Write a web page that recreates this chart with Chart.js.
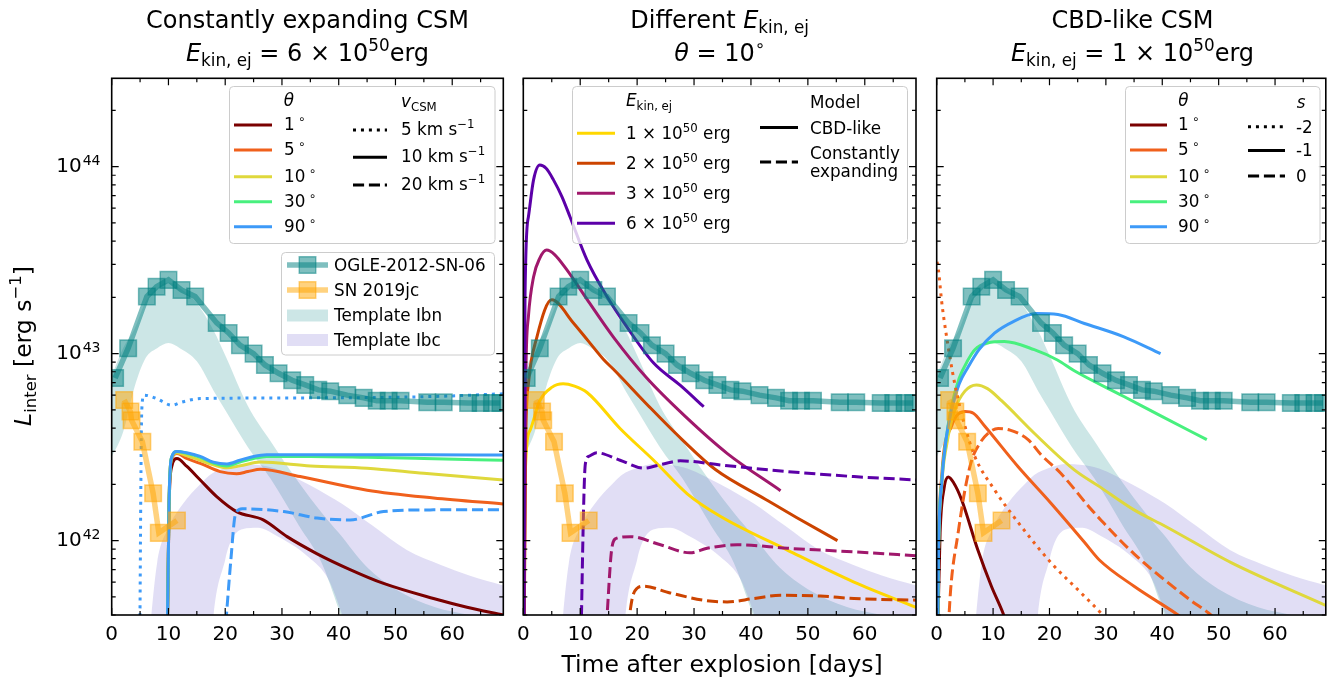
<!DOCTYPE html>
<html><head><meta charset="utf-8">
<script src="https://cdn.jsdelivr.net/npm/chart.js@4.4.1/dist/chart.umd.min.js"></script>
<style>
html,body{margin:0;padding:0;background:#fff;}
body{width:1339px;height:682px;position:relative;overflow:hidden;font-family:'DejaVu Sans',sans-serif;}
canvas{position:absolute;left:0;top:0;}
#ov{position:absolute;left:0;top:0;z-index:2;}
.t{position:absolute;white-space:nowrap;color:#000;line-height:1;z-index:3;}
.t sub{font-size:70%;position:relative;top:0.32em;vertical-align:baseline;line-height:0;}
.t sup{font-size:70%;position:relative;top:-0.6em;vertical-align:baseline;line-height:0;}
</style></head>
<body>
<canvas id="c1" width="1339" height="682"></canvas>
<canvas id="c2" width="1339" height="682"></canvas>
<canvas id="c3" width="1339" height="682"></canvas>
<svg id="ov" width="1339" height="682" xmlns="http://www.w3.org/2000/svg"></svg>
<script>
// ---------------- axis ticks ----------------
const xTicks = [0, 10, 20, 30, 40, 50, 60];
const yTicks = [1e42, 1e43, 1e44];
const yTickBase = ['10', '10', '10'];
const yTickExp = ['42', '43', '44'];

// ---------------- observations ----------------
const ogleT = [0.6, 2.9, 6.2, 7.9, 10.0, 12.3, 14.7, 18.5, 20.6, 22.6, 25.0, 27.0, 29.4, 31.8, 34.1, 36.4, 38.5, 41.5, 44.4, 46.7, 48.8, 50.9, 55.6, 58.5, 62.8, 65.0, 67.0, 68.5];
const ogleL = [7.4e42, 1.07e43, 2.02e43, 2.28e43, 2.48e43, 2.19e43, 2.02e43, 1.46e43, 1.29e43, 1.11e43, 1.0e43, 8.7e42, 7.85e42, 7.2e42, 6.8e42, 6.4e42, 6.3e42, 6.0e42, 5.8e42, 5.6e42, 5.6e42, 5.6e42, 5.5e42, 5.5e42, 5.45e42, 5.45e42, 5.45e42, 5.45e42];
const sn19jcT = [2.2, 3.3, 3.5, 5.4, 7.3, 8.3, 11.5];
const sn19jcL = [5.65e42, 4.9e42, 4.4e42, 3.38e42, 1.79e42, 1.10e42, 1.28e42];

// template bands
const ibnT = [0, 2, 4, 6, 8, 10, 12, 15, 18, 20, 24, 28, 33, 37, 40, 45, 50, 57, 63, 69];
const ibnUpper = [7.6e42, 1.07e43, 1.35e43, 1.9e43, 2.24e43, 2.4e43, 2.24e43, 1.86e43, 1.32e43, 9.8e42, 5.25e42, 3.4e42, 2.04e42, 1.41e42, 1.1e42, 7.2e41, 5.5e41, 4.4e41, 4.0e41, 3.6e41];
const ibnLower = [2.8e42, 3.8e42, 6.6e42, 9.5e42, 1.07e43, 1.14e43, 1.07e43, 9.1e42, 6.3e42, 5.0e42, 3.16e42, 2.14e42, 1.2e42, 7.6e41, 4.3e41, 1.6e41, 1e41, 1e41, 1e41, 1e41];
const ibcT = [0, 6, 8, 10, 12.6, 15.6, 17.3, 20, 23, 25.8, 28.8, 34.6, 38.2, 40.5, 46, 52, 58, 63, 69];
const ibcUpper = [1e40, 2.0e41, 7.6e41, 1.17e42, 1.58e42, 2.0e42, 2.24e42, 2.45e42, 2.57e42, 2.54e42, 2.43e42, 2.0e42, 1.74e42, 1.58e42, 1.2e42, 8.9e41, 7.4e41, 6.5e41, 5.75e41];
const ibcLower = [1e40, 1e40, 1e40, 1e40, 1e40, 1e40, 2.24e41, 7.9e41, 1.15e42, 1.17e42, 1.07e42, 8.2e41, 6.2e41, 4.1e41, 1.26e41, 1e41, 1e41, 1e41, 1e41];

// ---------------- panel 1: constantly expanding CSM, E = 6e50 ----------------
const ce1T  = [9.6, 10.1, 10.6, 11.5, 13.2, 15.6, 18.5, 22.0, 26.7, 30.9, 36.2, 42.0, 47.9, 56.7, 62.6, 69];
const ce1L  = [1e41, 1.5e42, 2.5e42, 2.75e42, 2.5e42, 2.11e42, 1.72e42, 1.43e42, 1.29e42, 1.05e42, 8.5e41, 7.0e41, 5.9e41, 4.9e41, 4.4e41, 4.0e41];
const ce5T  = [9.6, 10.1, 10.5, 11.5, 13.2, 15.6, 19.1, 22.0, 24.0, 26.2, 33.2, 45, 56.7, 69];
const ce5L  = [1e41, 1.58e42, 2.7e42, 2.92e42, 2.75e42, 2.59e42, 2.34e42, 2.28e42, 2.34e42, 2.41e42, 2.2e42, 1.86e42, 1.69e42, 1.57e42];
const ce10T = [9.6, 10.1, 10.5, 11.5, 13.2, 15.6, 17.9, 20.3, 22.6, 26.2, 35, 45, 55, 69];
const ce10L = [1e41, 1.58e42, 2.75e42, 2.95e42, 2.85e42, 2.69e42, 2.54e42, 2.45e42, 2.51e42, 2.63e42, 2.51e42, 2.44e42, 2.29e42, 2.11e42];
const ce30T = [9.6, 10.1, 10.5, 11.5, 13.2, 15.6, 17.9, 20.3, 22.6, 25.0, 27.3, 35, 45, 55, 69];
const ce30L = [1e41, 1.58e42, 2.75e42, 3.0e42, 2.93e42, 2.79e42, 2.6e42, 2.51e42, 2.63e42, 2.75e42, 2.82e42, 2.82e42, 2.79e42, 2.75e42, 2.69e42];
const ce90T = [9.6, 10.1, 10.5, 11.5, 13.2, 15.6, 17.9, 20.3, 22.6, 25.0, 27.3, 35, 45, 55, 69];
const ce90L = [1e41, 1.58e42, 2.75e42, 3.0e42, 2.95e42, 2.82e42, 2.63e42, 2.57e42, 2.69e42, 2.82e42, 2.88e42, 2.88e42, 2.88e42, 2.88e42, 2.87e42];
const ce90v5T = [4.85, 5.3, 5.7, 7.9, 10.6, 12.3, 15.6, 35, 56.7, 69];
const ce90v5L = [1e41, 5.0e42, 6.0e42, 5.75e42, 5.3e42, 5.5e42, 5.75e42, 5.8e42, 5.9e42, 6.1e42];
const ce90v20T = [19.9, 21.0, 21.8, 23.0, 30.3, 36.2, 42.0, 47.9, 56.7, 69];
const ce90v20L = [3e41, 7.9e41, 1.38e42, 1.48e42, 1.43e42, 1.32e42, 1.29e42, 1.43e42, 1.46e42, 1.46e42];

// ---------------- panel 2: different E_kin,ej, theta = 10 ----------------
const e1cbdT = [0.02, 0.3, 1.2, 2.9, 5.0, 7.0, 9.0, 11.2, 17.0, 22.9, 28.8, 34.6, 46.4, 58.1, 69];
const e1cbdL = [1e41, 2.1e42, 3.9e42, 5.6e42, 6.6e42, 6.9e42, 6.7e42, 6.2e42, 3.98e42, 2.69e42, 1.78e42, 1.35e42, 8.9e41, 6.0e41, 4.4e41];
const e2cbdT = [0.05, 0.4, 0.9, 2.4, 5.0, 8.8, 11.4, 14.1, 16.1, 22.0, 27.9, 33.75, 42.6, 48, 55.2];
const e2cbdL = [1e41, 3.16e42, 6.9e42, 1.23e43, 1.94e43, 1.46e43, 1.17e43, 9.3e42, 8.1e42, 5.25e42, 3.47e42, 2.4e42, 1.66e42, 1.33e42, 1.0e42];
const e3cbdT = [0.05, 0.4, 0.9, 1.8, 2.9, 4.1, 5.5, 7.6, 11.2, 15.8, 21.7, 28.5, 35.8, 45.2];
const e3cbdL = [1e41, 6.3e42, 1.58e43, 2.57e43, 3.24e43, 3.58e43, 3.39e43, 2.82e43, 1.95e43, 1.23e43, 7.4e42, 4.6e42, 2.93e42, 1.85e42];
const e6cbdT = [0.05, 0.3, 0.9, 1.8, 2.9, 4.0, 5.3, 6.8, 8.2, 11.2, 14.7, 18.2, 22.9, 27.6, 31.7];
const e6cbdL = [1e41, 2.0e43, 5.4e43, 8.5e43, 1.02e44, 9.8e43, 8.5e43, 6.9e43, 5.4e43, 3.16e43, 2.02e43, 1.39e43, 8.9e42, 6.76e42, 5.2e42];
const e2ceT = [18.4, 19.2, 20.0, 21.1, 25.8, 31.7, 35.8, 40.5, 45.2, 52.2, 58.1, 69];
const e2ceL = [3.5e41, 5.0e41, 5.56e41, 5.7e41, 5.25e41, 4.8e41, 4.7e41, 4.9e41, 5.1e41, 5.05e41, 4.9e41, 4.8e41];
const e3ceT = [14.6, 15.6, 16.4, 18.8, 24.1, 29.3, 32.3, 37.6, 46.4, 58.1, 69];
const e3ceL = [3.5e41, 9.3e41, 1.03e42, 1.05e42, 9.5e41, 8.6e41, 9.1e41, 9.5e41, 9.1e41, 8.7e41, 8.3e41];
const e6ceT = [9.85, 10.9, 11.5, 12.9, 17.0, 21.1, 24.6, 27.6, 34.6, 46.4, 58.1, 69];
const e6ceL = [1e41, 2.57e42, 2.82e42, 2.95e42, 2.69e42, 2.44e42, 2.57e42, 2.67e42, 2.54e42, 2.34e42, 2.2e42, 2.11e42];

// ---------------- panel 3: CBD-like CSM, E = 1e50 ----------------
const cbd1T  = [0.02, 0.6, 1.3, 2.05, 3.0, 4.4, 7.3, 9.7, 11.75, 13];
const cbd1L  = [2e41, 1.1e42, 1.9e42, 2.19e42, 2.04e42, 1.66e42, 8.9e41, 5.7e41, 4.1e41, 3.2e41];
const cbd5T  = [0.02, 0.3, 0.9, 2.65, 5.0, 6.5, 8.5, 14.4, 20.3, 26.2, 28.8, 35.0, 42.3, 45];
const cbd5L  = [1e41, 7.9e41, 2.24e42, 4.1e42, 4.9e42, 4.8e42, 4.1e42, 2.49e42, 1.58e42, 9.8e41, 7.9e41, 5.7e41, 4.1e41, 3.6e41];
const cbd10T = [0.02, 0.3, 0.9, 1.8, 3.2, 5.0, 7.05, 9, 11.5, 17.3, 24.4, 28.8, 35.0, 40.6, 52.3, 69];
const cbd10L = [1e41, 7.9e41, 2.0e42, 3.3e42, 5.0e42, 6.3e42, 6.8e42, 6.5e42, 5.6e42, 3.75e42, 2.39e42, 1.95e42, 1.46e42, 1.19e42, 7.6e41, 4.5e41];
const cbd30T = [0.02, 0.3, 0.9, 1.7, 2.65, 4.0, 5.6, 6.75, 9, 12, 17.3, 21.4, 24.4, 33.2, 40, 47.9];
const cbd30L = [1e41, 7.9e41, 2.1e42, 3.55e42, 5.25e42, 7.4e42, 9.3e42, 1.05e43, 1.14e43, 1.16e43, 1.05e43, 9.25e42, 8.1e42, 5.9e42, 4.6e42, 3.47e42];
const cbd90T = [0.02, 0.3, 0.9, 1.7, 2.65, 4.0, 5.6, 7.5, 10.3, 13.5, 17.6, 21.5, 26.2, 33.2, 39.7];
const cbd90L = [1e41, 7.9e41, 2.04e42, 3.55e42, 5.0e42, 6.9e42, 8.5e42, 1.05e43, 1.29e43, 1.48e43, 1.64e43, 1.62e43, 1.45e43, 1.23e43, 1.0e43];
const cbd5s0T = [1.9, 2.5, 3.8, 5.0, 6.2, 7.6, 9.1, 10.9, 13, 16.2, 18.5, 22, 27.3, 29.1, 35, 45, 48.2, 52];
const cbd5s0L = [2.8e41, 5.6e41, 1.1e42, 1.86e42, 2.69e42, 3.3e42, 3.75e42, 3.98e42, 3.9e42, 3.47e42, 2.88e42, 2.29e42, 1.48e42, 1.29e42, 8.5e41, 4.8e41, 4.1e41, 3.2e41];
const cbd5sm2T = [0.05, 0.3, 0.88, 1.6, 3.2, 5.0, 6.75, 10.3, 15.0, 20.3, 25.6, 29.1, 31];
const cbd5sm2L = [3.1e43, 2.82e43, 1.9e43, 1.32e43, 6.9e42, 4.1e42, 2.82e42, 1.86e42, 1.19e42, 7.6e41, 5.25e41, 4.1e41, 3.5e41];

// ---------------- styles ----------------
const C_T1 = '#7a0000', C_T5 = '#f0601c', C_T10 = '#dfd83c', C_T30 = '#48f07e', C_T90 = '#3d9af8';
const C_E1 = '#ffd700', C_E2 = '#cc4400', C_E3 = '#a0186c', C_E6 = '#5c00a8';
const DOT = [3, 4.95], DASH = [11.1, 4.8];
const OGLE_C = 'rgba(0,128,128,0.5)', SN_C = 'rgba(255,165,0,0.5)';
const IBN_C = 'rgba(0,128,128,0.2)', IBC_C = 'rgba(106,90,205,0.2)';
const X_MIN = 0, X_MAX = 69, Y_MIN = 4.0e41, Y_MAX = 2.97e44;
const Y_LABEL_PAD = 30;

Chart.defaults.font.family = "'DejaVu Sans', sans-serif";
Chart.defaults.color = '#000';

const pts = (T, L) => T.map((t, i) => ({x: t, y: L[i]}));
function model(T, L, color, dash, order) {
  return {data: pts(T, L), borderColor: color, borderWidth: 3, borderDash: dash || [],
    borderCapStyle: 'butt', borderJoinStyle: 'round', pointRadius: 0, pointHoverRadius: 0,
    fill: false, cubicInterpolationMode: 'monotone', clip: 0, order: order};
}
function commonData() {
  return [
    {data: pts(ibnT, ibnUpper), fill: 1, backgroundColor: IBN_C, borderWidth: 0, pointRadius: 0, cubicInterpolationMode: 'monotone', clip: 0, order: 100},
    {data: pts(ibnT, ibnLower), fill: false, borderWidth: 0, pointRadius: 0, cubicInterpolationMode: 'monotone', clip: 0, order: 101},
    {data: pts(ibcT, ibcUpper), fill: 3, backgroundColor: IBC_C, borderWidth: 0, pointRadius: 0, cubicInterpolationMode: 'monotone', clip: 0, order: 98},
    {data: pts(ibcT, ibcLower), fill: false, borderWidth: 0, pointRadius: 0, cubicInterpolationMode: 'monotone', clip: 0, order: 99},
    {data: pts(ogleT, ogleL), borderColor: OGLE_C, borderWidth: 5.5, tension: 0, fill: false,
      pointStyle: 'rect', pointRadius: 11.7, pointBackgroundColor: OGLE_C, pointBorderColor: OGLE_C, pointBorderWidth: 1.5, clip: 0, order: 1},
    {data: pts(sn19jcT, sn19jcL), borderColor: SN_C, borderWidth: 5.5, tension: 0, fill: false,
      pointStyle: 'rect', pointRadius: 11.7, pointBackgroundColor: SN_C, pointBorderColor: SN_C, pointBorderWidth: 1.5, clip: 0, order: 0}
  ];
}

const frameTicks = {
  id: 'frameTicks',
  afterDraw(chart) {
    const {ctx, chartArea: a} = chart;
    const xs = chart.scales.x, ys = chart.scales.y;
    ctx.save();
    ctx.strokeStyle = '#000';
    ctx.beginPath();
    ctx.lineWidth = 1.2;
    for (let v = X_MIN; v <= X_MAX; v += 5) {
      const p = xs.getPixelForValue(v);
      const len = (v % 10 === 0) ? 7 : 4;
      ctx.moveTo(p, a.bottom); ctx.lineTo(p, a.bottom - len);
      ctx.moveTo(p, a.top); ctx.lineTo(p, a.top + len);
    }
    for (let e = 41; e <= 44; e++) {
      for (let m = 1; m <= 9; m++) {
        const v = m * Math.pow(10, e);
        if (v < Y_MIN || v > Y_MAX) continue;
        const p = ys.getPixelForValue(v);
        const len = m === 1 ? 7 : 4;
        ctx.moveTo(a.left, p); ctx.lineTo(a.left + len, p);
        ctx.moveTo(a.right, p); ctx.lineTo(a.right - len, p);
      }
    }
    ctx.stroke();
    ctx.lineWidth = 1.6;
    ctx.strokeRect(a.left, a.top, a.right - a.left, a.bottom - a.top);
    // exponents of the y tick labels (superscripts next to the library's "10" labels)
    if (ys.options.ticks.display) {
      ctx.fillStyle = '#000';
      ctx.font = "14px 'DejaVu Sans', sans-serif";
      ctx.textAlign = 'left';
      ctx.textBaseline = 'alphabetic';
      ys.ticks.forEach((t, i) => {
        const p = ys.getPixelForValue(t.value);
        ctx.fillText(yTickExp[i], a.left - Y_LABEL_PAD + 1, p - 2);
      });
    }
    ctx.restore();
  }
};

function makeChart(id, datasets, padLeft, yWidth, padRight, showY) {
  return new Chart(document.getElementById(id), {
    type: 'line',
    data: {datasets: datasets},
    options: {
      responsive: false, animation: false, devicePixelRatio: 1,
      layout: {padding: {left: padLeft, right: padRight, top: 78.3, bottom: 0}},
      plugins: {legend: {display: false}, tooltip: {enabled: false}},
      events: [],
      scales: {
        x: {type: 'linear', min: X_MIN, max: X_MAX,
          grid: {display: false, drawTicks: false}, border: {display: false},
          afterBuildTicks: s => { s.ticks = xTicks.map(v => ({value: v})); },
          afterFit: s => { s.height = 67; },
          ticks: {autoSkip: false, maxRotation: 0, padding: 8, font: {size: 20}, color: '#000',
            callback: v => String(v)}},
        y: {type: 'logarithmic', min: Y_MIN, max: Y_MAX,
          grid: {display: false, drawTicks: false}, border: {display: false},
          afterBuildTicks: s => { s.ticks = yTicks.map(v => ({value: v})); },
          afterFit: s => { s.width = yWidth; },
          ticks: {display: showY, autoSkip: false, padding: Y_LABEL_PAD, font: {size: 20}, color: '#000',
            callback: (v, i) => yTickBase[i]}}
      }
    },
    plugins: [frameTicks]
  });
}

const ds1 = commonData().concat([
  model(ce1T, ce1L, C_T1, null, 20),
  model(ce5T, ce5L, C_T5, null, 19),
  model(ce10T, ce10L, C_T10, null, 18),
  model(ce30T, ce30L, C_T30, null, 17),
  model(ce90T, ce90L, C_T90, null, 16),
  model(ce90v5T, ce90v5L, C_T90, DOT, 15),
  model(ce90v20T, ce90v20L, C_T90, DASH, 14)
]);
const ds2 = commonData().concat([
  model(e1cbdT, e1cbdL, C_E1, null, 20),
  model(e2cbdT, e2cbdL, C_E2, null, 19),
  model(e2ceT, e2ceL, C_E2, DASH, 18),
  model(e3cbdT, e3cbdL, C_E3, null, 17),
  model(e3ceT, e3ceL, C_E3, DASH, 16),
  model(e6cbdT, e6cbdL, C_E6, null, 15),
  model(e6ceT, e6ceL, C_E6, DASH, 14)
]);
const ds3 = commonData().concat([
  model(cbd1T, cbd1L, C_T1, null, 20),
  model(cbd5T, cbd5L, C_T5, null, 19),
  model(cbd10T, cbd10L, C_T10, null, 18),
  model(cbd30T, cbd30L, C_T30, null, 17),
  model(cbd90T, cbd90L, C_T90, null, 16),
  model(cbd5sm2T, cbd5sm2L, C_T5, DOT, 15),
  model(cbd5s0T, cbd5s0L, C_T5, DASH, 14)
]);

makeChart('c1', ds1, 40, 71.7, 1339 - 503.3, true);
makeChart('c2', ds2, 500, 23.3, 1339 - 916, false);
makeChart('c3', ds3, 910, 26.7, 1339 - 1328.3, false);

// ---------------- text & legends ----------------
function txt(html, x, cy, fs, align, rot) {
  const d = document.createElement('div');
  d.className = 't';
  d.innerHTML = html;
  d.style.fontSize = fs + 'px';
  d.style.left = x + 'px';
  if (rot) {
    d.style.top = cy + 'px';
    d.style.transform = 'translate(-50%,-50%) rotate(-90deg)';
  } else {
    d.style.top = (cy - 0.48 * fs) + 'px';
    if (align === 'center') d.style.transform = 'translateX(-50%)';
  }
  document.body.appendChild(d);
}
const svg = document.getElementById('ov');
function el(tag, attrs) {
  const e = document.createElementNS('http://www.w3.org/2000/svg', tag);
  for (const k in attrs) e.setAttribute(k, attrs[k]);
  svg.appendChild(e);
  return e;
}
function box(x, y, w, h) { el('rect', {x: x, y: y, width: w, height: h, rx: 4, ry: 4, fill: 'rgba(255,255,255,0.8)', stroke: '#cccccc', 'stroke-width': 1}); }
function sample(x1, x2, y, color, dash) {
  el('line', {x1: x1, y1: y, x2: x2, y2: y, stroke: color, 'stroke-width': 3, 'stroke-dasharray': dash ? dash.join(' ') : 'none'});
}
function markerSample(x1, x2, y, color) {
  el('line', {x1: x1, y1: y, x2: x2, y2: y, stroke: color, 'stroke-width': 5.5});
  const cx = (x1 + x2) / 2, s = 16.5;
  el('rect', {x: cx - s / 2, y: y - s / 2, width: s, height: s, fill: color, stroke: color, 'stroke-width': 1.5});
}
const LF = 16.8;
const EKIN = '<i>E</i><sub>kin, ej</sub>';

// titles
txt('Constantly expanding CSM', 307.5, 19.5, 24, 'center');
txt(EKIN + ' = 6 × 10<sup>50</sup>erg', 307.5, 52.5, 24, 'center');
txt('Different ' + EKIN, 719.7, 19.5, 24, 'center');
txt('<i>θ</i> = 10<sup>∘</sup>', 719.7, 52.5, 24, 'center');
txt('CBD-like CSM', 1132.5, 19.5, 24, 'center');
txt(EKIN + ' = 1 × 10<sup>50</sup>erg', 1132.5, 52.5, 24, 'center');
// axis titles
txt('Time after explosion [days]', 722, 664, 23.5, 'center');
txt('<i>L</i><sub>inter</sub> [erg s<sup>−1</sup>]', 24, 346, 23.5, 'center', true);

// legend panel 1 (theta / v_CSM)
box(229.5, 86.5, 265.5, 157);
txt('<i>θ</i>', 289, 100, LF, 'center');
[['1', C_T1, 125], ['5', C_T5, 150], ['10', C_T10, 176.7], ['30', C_T30, 201.7], ['90', C_T90, 226.7]].forEach(r => {
  sample(234, 272, r[2], r[1]); txt(r[0] + '&thinsp;<sup>∘</sup>', 284, r[2] - 1, LF, 'left');
});
txt('<i>v</i><sub>CSM</sub>', 401, 101, LF, 'left');
[['5 km s<sup>−1</sup>', DOT, 130], ['10 km s<sup>−1</sup>', null, 157.3], ['20 km s<sup>−1</sup>', DASH, 185]].forEach(r => {
  sample(353, 387, r[2], '#000', r[1]); txt(r[0], 401, r[2] - 1, LF, 'left');
});
// legend panel 1 (data)
box(281.5, 252.5, 213, 102.5);
markerSample(287, 328, 265, OGLE_C); txt('OGLE-2012-SN-06', 334, 265, LF, 'left');
markerSample(287, 328, 290, SN_C); txt('SN 2019jc', 334, 290, LF, 'left');
el('rect', {x: 287, y: 309.5, width: 41, height: 12, fill: IBN_C}); txt('Template Ibn', 334, 315, LF, 'left');
el('rect', {x: 287, y: 334, width: 41, height: 12, fill: IBC_C}); txt('Template Ibc', 334, 340, LF, 'left');

// legend panel 2
box(572.5, 86.5, 335, 157);
txt(EKIN, 626, 100, LF, 'left');
[['1', C_E1, 133.3], ['2', C_E2, 163.3], ['3', C_E3, 193.3], ['6', C_E6, 223.3]].forEach(r => {
  sample(577, 615, r[2], r[1]); txt(r[0] + ' × 10<sup>50</sup> erg', 626, r[2], LF, 'left');
});
txt('Model', 810, 102, LF, 'left');
sample(760, 798, 127.5, '#000'); txt('CBD-like', 810, 128, LF, 'left');
sample(760, 798, 162, '#000', DASH); txt('Constantly', 810, 153, LF, 'left'); txt('expanding', 810, 171, LF, 'left');

// legend panel 3
box(1125.5, 86.5, 194.5, 157);
txt('<i>θ</i>', 1183.5, 100, LF, 'center');
[['1', C_T1, 125], ['5', C_T5, 150], ['10', C_T10, 176.7], ['30', C_T30, 201.7], ['90', C_T90, 226.7]].forEach(r => {
  sample(1130, 1167, r[2], r[1]); txt(r[0] + '&thinsp;<sup>∘</sup>', 1178, r[2] - 1, LF, 'left');
});
txt('<i>s</i>', 1301, 102, LF, 'center');
[['-2', DOT, 126.7], ['-1', null, 150.5], ['0', DASH, 176]].forEach(r => {
  sample(1248, 1285, r[2], '#000', r[1]); txt(r[0], 1296, r[2], LF, 'left');
});
</script>
</body></html>
